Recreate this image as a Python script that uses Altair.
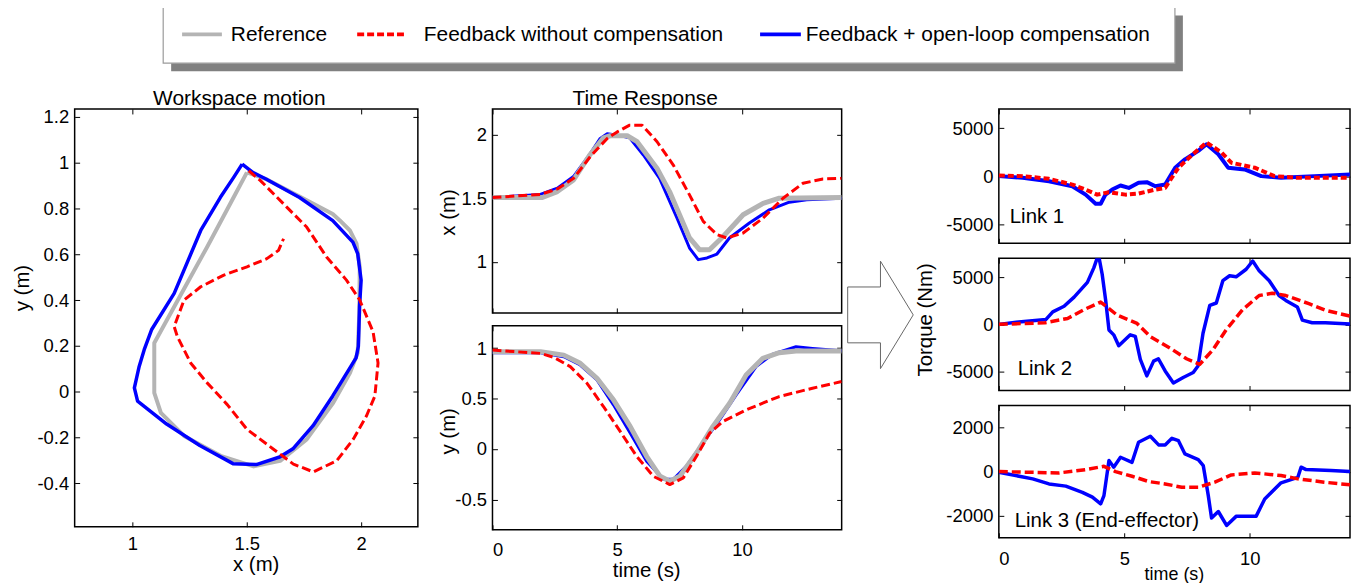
import altair as alt
import pandas as pd

FONT = "Liberation Sans"
GRAY = "#b4b4b4"
RED = "#ff0000"
BLUE = "#0000ff"
DASH = [9, 4]

# ---------------- legend ----------------
legend_labels = ["Reference", "Feedback without compensation", "Feedback + open-loop compensation"]
legend_colors = [GRAY, RED, BLUE]

# ---------------- workspace motion (x, y paths) ----------------
ws_ref_x = [1.501, 1.586, 1.731, 1.876, 1.907, 1.951, 1.980, 1.994, 1.992, 1.985, 1.951, 1.878, 1.762,
            1.646, 1.530, 1.386, 1.226, 1.125, 1.096, 1.096, 1.096, 1.120, 1.183, 1.327, 1.443, 1.501]
ws_ref_y = [0.958, 0.928, 0.852, 0.776, 0.748, 0.704, 0.646, 0.545, 0.342, 0.169, 0.081, -0.049, -0.209,
            -0.303, -0.327, -0.281, -0.194, -0.093, -0.006, 0.183, 0.212, 0.256, 0.371, 0.632, 0.849, 0.958]

ws_ol_x = [1.480, 1.528, 1.586, 1.731, 1.876, 1.964, 1.985, 2.000, 1.993, 1.988, 1.978, 1.876, 1.790,
           1.702, 1.644, 1.542, 1.440, 1.295, 1.150, 1.023, 1.009, 1.030, 1.052, 1.084, 1.183, 1.299,
           1.385, 1.443, 1.480]
ws_ol_y = [0.994, 0.957, 0.928, 0.848, 0.747, 0.653, 0.603, 0.487, 0.371, 0.198, 0.147, -0.019, -0.149,
           -0.250, -0.286, -0.319, -0.315, -0.236, -0.142, -0.042, 0.016, 0.110, 0.183, 0.270, 0.429,
           0.704, 0.849, 0.936, 0.994]

ws_fb_x = [1.509, 1.560, 1.675, 1.762, 1.849, 1.936, 1.994, 2.052, 2.074, 2.060, 2.023, 1.965, 1.893,
           1.791, 1.704, 1.617, 1.501, 1.415, 1.327, 1.255, 1.197, 1.183, 1.226, 1.299, 1.400, 1.501,
           1.588, 1.639, 1.661]
ws_fb_y = [0.965, 0.922, 0.806, 0.719, 0.588, 0.487, 0.400, 0.262, 0.125, -0.020, -0.107, -0.209, -0.303,
           -0.351, -0.317, -0.252, -0.165, -0.057, 0.038, 0.125, 0.240, 0.284, 0.400, 0.458, 0.509, 0.545,
           0.581, 0.617, 0.668]

# ---------------- time response x(t) ----------------
tx_ref_t = [0, 2.0, 2.6, 3.25, 3.9, 4.45, 4.72, 5.4, 5.8, 6.6, 7.1, 7.9, 8.3, 8.7, 9.25, 10.05, 10.85, 11.5, 14]
tx_ref_v = [1.505, 1.505, 1.552, 1.643, 1.839, 1.974, 1.99, 1.99, 1.943, 1.734, 1.552, 1.188, 1.096, 1.096,
            1.20, 1.37, 1.46, 1.50, 1.505]
tx_ol_t = [0, 1.92, 2.6, 3.25, 3.92, 4.32, 4.6, 5.0, 5.5, 6.05, 6.7, 7.4, 7.9, 8.25, 8.6, 9.0, 9.5, 10.3,
           11.1, 11.9, 12.6, 14]
tx_ol_v = [1.505, 1.53, 1.578, 1.67, 1.85, 1.969, 2.005, 1.995, 1.974, 1.839, 1.656, 1.344, 1.109, 1.018,
           1.031, 1.062, 1.188, 1.305, 1.409, 1.469, 1.487, 1.50]
tx_fb_t = [0, 1.92, 2.6, 3.25, 3.92, 4.6, 5.0, 5.5, 6.0, 6.6, 7.25, 7.9, 8.45, 9.0, 9.4, 10.05, 10.85,
           11.65, 12.45, 13.25, 14]
tx_fb_v = [1.505, 1.53, 1.573, 1.656, 1.826, 1.969, 2.02, 2.073, 2.073, 1.943, 1.76, 1.526, 1.318, 1.214,
           1.188, 1.227, 1.344, 1.50, 1.617, 1.651, 1.656]

# ---------------- time response y(t) ----------------
ty_ref_t = [0, 1.93, 2.86, 3.52, 4.19, 4.85, 5.52, 6.18, 6.72, 7.11, 7.51, 8.18, 8.84, 9.51, 10.17, 10.84,
            11.5, 12.17, 14]
ty_ref_v = [0.964, 0.964, 0.93, 0.849, 0.70, 0.487, 0.224, -0.072, -0.27, -0.32, -0.27, -0.04, 0.224,
            0.454, 0.734, 0.898, 0.954, 0.97, 0.97]
ty_ol_t = [0, 1.93, 2.86, 3.52, 4.19, 4.85, 5.52, 6.18, 6.85, 7.25, 7.78, 8.44, 9.11, 9.77, 10.57, 11.24,
           12.17, 12.83, 14]
ty_ol_v = [0.954, 0.954, 0.914, 0.832, 0.684, 0.4375, 0.158, -0.12, -0.30, -0.30, -0.17, 0.06, 0.29,
           0.536, 0.816, 0.94, 1.013, 0.997, 0.974]
ty_fb_t = [0, 1.93, 2.46, 3.12, 3.79, 4.45, 5.12, 5.78, 6.45, 7.11, 7.65, 8.18, 8.71, 9.24, 10.17, 11.5,
           12.83, 14]
ty_fb_v = [0.98, 0.947, 0.908, 0.816, 0.651, 0.421, 0.174, -0.072, -0.27, -0.352, -0.286, -0.072, 0.158,
           0.273, 0.388, 0.52, 0.602, 0.668]

# ---------------- torques ----------------
l1_ol_t = [0, 0.95, 2.0, 2.93, 3.46, 3.86, 4.06, 4.25, 4.52, 4.85, 5.18, 5.57, 5.9, 6.24, 6.63, 7.03, 7.42,
           7.95, 8.28, 8.75, 9.14, 9.8, 10.46, 11.25, 12.58, 14]
l1_ol_v = [0, -175, -530, -1050, -1930, -2880, -2880, -1930, -1400, -980, -1230, -700, -630, -1050, -880,
           880, 1750, 2630, 3330, 2280, 880, 700, 0, -175, 0, 175]
l1_fb_t = [0, 0.95, 2.0, 2.93, 3.46, 3.92, 4.39, 5.05, 5.57, 6.24, 6.63, 7.16, 7.69, 8.28, 8.88, 9.27,
           10.2, 10.99, 11.92, 13.24, 14]
l1_fb_v = [70, 0, -280, -880, -1400, -1930, -1680, -1930, -1820, -1400, -1230, 880, 2180, 3510, 2460,
           1400, 880, 0, -175, -175, -175]

l2_ol_t = [0, 0.9, 1.88, 2.15, 2.6, 3.0, 3.53, 3.79, 3.97, 4.12, 4.26, 4.39, 4.58, 4.78, 5.24, 5.44,
           5.64, 5.9, 6.17, 6.36, 6.63, 6.96, 7.35, 7.75, 7.94, 8.14, 8.41, 8.67, 8.93, 9.2, 9.46, 9.86,
           10.12, 10.38, 10.78, 11.17, 11.44, 11.9, 12.1, 12.49, 13.02, 14]
l2_ol_v = [0, 280, 520, 1320, 1910, 2880, 4440, 6000, 7400, 5300, 2530, -590, -1110, -2260, -1110, -1280,
           -3710, -5450, -3890, -3640, -4930, -6210, -5620, -5100, -4410, -940, 2010, 2260, 4620, 5140,
           5030, 5830, 6700, 5660, 4620, 3050, 2530, 1840, 450, 170, 170, 35]
l2_fb_t = [0, 1.84, 2.74, 3.4, 4.06, 4.72, 5.51, 6.03, 6.82, 7.48, 8.01, 8.54, 9.06, 9.72, 10.38, 10.91,
           11.44, 12.36, 13.02, 14]
l2_fb_v = [0, 170, 620, 1560, 2360, 970, 100, -1280, -2500, -3640, -4230, -2670, -590, 1560, 3050, 3300,
           3050, 2190, 1490, 870]

l3_ol_t = [0, 1.35, 2.0, 2.67, 3.33, 3.73, 4.06, 4.19, 4.39, 4.58, 4.85, 5.31, 5.57, 6.04, 6.37, 6.63,
           6.9, 7.16, 7.42, 7.95, 8.15, 8.35, 8.48, 8.75, 9.08, 9.47, 9.8, 10.26, 10.6, 11.25, 11.92,
           12.05, 12.25, 13.24, 14]
l3_ol_v = [-30, -330, -560, -660, -940, -1160, -1460, -1090, 500, 200, 650, 420, 1330, 1600, 1210, 1210,
           1510, 1400, 800, 540, 270, -1090, -2110, -1810, -2440, -2020, -2020, -2020, -1240, -510, -260,
           200, 90, 45, 0]
l3_fb_t = [0, 2.4, 3.46, 4.19, 4.65, 5.31, 5.97, 6.63, 7.29, 7.95, 8.61, 9.27, 10.2, 11.25, 11.92, 12.97, 14]
l3_fb_v = [0, -60, 90, 240, 0, -210, -450, -560, -710, -710, -480, -150, -60, -180, -330, -480, -600]

ARROW = "M -0.61 -0.52 L 0 -0.52 L 0 -1 L 0.61 0 L 0 1 L 0 0.52 L -0.61 0.52 Z"

one = pd.DataFrame({"k": [0]})


def sdf(t, v):
    return pd.DataFrame({"t": t, "v": v, "i": list(range(len(t)))})


def main_axis(orient, values, labels, title, tpos, pad, tsize=20.5):
    kw = dict(orient=orient, values=values, offset=-5, tickSize=5, tickColor="black", tickWidth=1,
              domain=False, grid=False, labels=labels, labelFont=FONT, labelFontSize=18.5,
              labelColor="black", labelPadding=pad, labelExpr="'' + datum.value")
    if title:
        kw.update(title=title, titleFont=FONT, titleFontSize=tsize, titleFontWeight="normal",
                  titleColor="black", titleX=tpos[0], titleY=tpos[1], titleAlign="center",
                  titleBaseline="middle", titleAngle=270 if orient == "left" else 0)
    else:
        kw["title"] = None
    return alt.Axis(**kw)


def tick_axis(orient, values):
    return alt.Axis(orient=orient, values=values, offset=-5, tickSize=5, tickColor="black", tickWidth=1,
                    domain=False, grid=False, labels=False, title=None)


def spacer(x1, x2, y1, y2):
    return alt.Chart(one).mark_rect(opacity=0).encode(
        x=alt.value(x1), x2=alt.value(x2), y=alt.value(y1), y2=alt.value(y2))


def text(s, x, y, size=20.5, align="left"):
    return alt.Chart(pd.DataFrame({"s": [s]})).mark_text(
        align=align, baseline="alphabetic", font=FONT, fontSize=size, color="black").encode(
        x=alt.value(x), y=alt.value(y), text="s:N")


def panel(series, xdom, ydom, xticks, yticks, w, h, xlabels=True, xtitle="", ytitle="",
          xtpos=(0, 0), ytpos=(0, 0), xpad=8, xtsize=20.5, extras=()):
    xs = alt.Scale(domain=xdom, nice=False, zero=False)
    ys = alt.Scale(domain=ydom, nice=False, zero=False)
    layers = []
    for k, (df, color, dash, sw) in enumerate(series):
        if k == 0:
            xa = main_axis("bottom", xticks, xlabels, xtitle, xtpos, xpad, xtsize)
            ya = main_axis("left", yticks, True, ytitle, ytpos, 6)
        elif k == 1:
            xa = tick_axis("top", xticks)
            ya = tick_axis("right", yticks)
        else:
            xa = None
            ya = None
        props = dict(color=color, strokeWidth=sw, clip=True, strokeJoin="round")
        if dash:
            props["strokeDash"] = dash
        layers.append(alt.Chart(df).mark_line(**props).encode(
            x=alt.X("t:Q", scale=xs, axis=xa),
            y=alt.Y("v:Q", scale=ys, axis=ya),
            order=alt.Order("i:Q")))
    layers += list(extras)
    return alt.layer(*layers).resolve_axis(x="independent", y="independent").properties(width=w, height=h)


# ---------------- legend chart (origin aligned with the workspace plot's left edge) ----------------
leg_pos = [(108, 148, 157), (284, 332, 351), (689, 730, 735)]
leg_dash = [None, [7, 3], None]
leg_layers = [
    alt.Chart(one).mark_rect(color="#808080").encode(
        x=alt.value(97), x2=alt.value(1114), y=alt.value(8), y2=alt.value(64)),
    alt.Chart(one).mark_rect(fill="white", stroke="#9a9a9a", strokeWidth=1.2).encode(
        x=alt.value(89), x2=alt.value(1106), y=alt.value(0), y2=alt.value(56)),
]
for lab, col, dsh, (xa_, xb_, xt_) in zip(legend_labels, legend_colors, leg_dash, leg_pos):
    rp = dict(color=col, strokeWidth=4)
    if dsh:
        rp["strokeDash"] = dsh
    leg_layers.append(alt.Chart(one).mark_rule(**rp).encode(
        x=alt.value(xa_), x2=alt.value(xb_), y=alt.value(27)))
    leg_layers.append(alt.Chart(pd.DataFrame({"s": [lab]})).mark_text(
        align="left", baseline="middle", font=FONT, fontSize=21, color="black").encode(
        x=alt.value(xt_), y=alt.value(28), text="s:N"))
legend_chart = alt.layer(*leg_layers).properties(
    width=1120, height=64, view=alt.ViewBackground(stroke="transparent"))

# ---------------- panels ----------------
workspace = panel(
    [(sdf(ws_ref_x, ws_ref_y), GRAY, None, 4), (sdf(ws_ol_x, ws_ol_y), BLUE, None, 3.5),
     (sdf(ws_fb_x, ws_fb_y), RED, DASH, 3)],
    [0.748, 2.248], [-0.591, 1.235], [1, 1.5, 2], [-0.4, -0.2, 0, 0.2, 0.4, 0.6, 0.8, 1, 1.2],
    345, 420, xtitle="x (m)", ytitle="y (m)", xtpos=(182, 43), ytpos=(-57.5, 179.5), xpad=7.5,
    extras=[spacer(-66, 358, -24, 10), text("Workspace motion", 165.5, -4, 21, "center")])

mid_top = panel(
    [(sdf(tx_ol_t, tx_ol_v), BLUE, None, 3), (sdf(tx_ref_t, tx_ref_v), GRAY, None, 5),
     (sdf(tx_fb_t, tx_fb_v), RED, DASH, 3)],
    [0, 14], [0.6, 2.2], [0, 5, 10], [1, 1.5, 2], 351, 205, xlabels=False,
    ytitle="x (m)", ytpos=(-49.5, 103.5),
    extras=[spacer(-60, 352, -24, 210), text("Time Response", 153.5, -4, 21, "center")])

mid_bot = panel(
    [(sdf(ty_ol_t, ty_ol_v), BLUE, None, 3), (sdf(ty_ref_t, ty_ref_v), GRAY, None, 5),
     (sdf(ty_fb_t, ty_fb_v), RED, DASH, 3)],
    [0, 14], [-0.8, 1.22], [0, 5, 10], [-0.5, 0, 0.5, 1], 351, 205,
    xtitle="time (s)", ytitle="y (m)", xtpos=(154.5, 45.5), ytpos=(-49, 105.5), xpad=10.5,
    extras=[spacer(-60, 352, 0, 10)])

link1 = panel(
    [(sdf(l1_ol_t, l1_ol_v), BLUE, None, 4), (sdf(l1_fb_t, l1_fb_v), RED, [6, 3], 4)],
    [0, 14], [-7000, 7000], [0, 5, 10], [-5000, 0, 5000], 353, 135, xlabels=False,
    extras=[spacer(-155, 0, -24, 141), text("Link 1", 11, 115)])

arrow = alt.Chart(one).mark_point(shape=ARROW, size=11664, filled=True, fill="white", stroke="#666666",
                                  strokeWidth=1, opacity=1).encode(x=alt.value(-119), y=alt.value(57))

link2 = panel(
    [(sdf(l2_ol_t, l2_ol_v), BLUE, None, 3.5), (sdf(l2_fb_t, l2_fb_v), RED, DASH, 3.5)],
    [0, 14], [-7000, 7000], [0, 5, 10], [-5000, 0, 5000], 353, 133, xlabels=False,
    ytitle="Torque (Nm)", ytpos=(-79, 61.5),
    extras=[spacer(-155, 0, 0, 139), arrow, text("Link 2", 19, 117)])

link3 = panel(
    [(sdf(l3_ol_t, l3_ol_v), BLUE, None, 3.5), (sdf(l3_fb_t, l3_fb_v), RED, DASH, 3.5)],
    [0, 14], [-3000, 3000], [0, 5, 10], [-2000, 0, 2000], 353, 133,
    xtitle="time (s)", xtpos=(176, 41.5), xpad=12, xtsize=18,
    extras=[spacer(-155, 0, 0, 10), text("Link 3 (End-effector)", 16, 122)])

mid_col = alt.vconcat(mid_top, mid_bot, spacing=5)
right_col = alt.vconcat(link1, link2, link3, spacing=6)
row = alt.hconcat(workspace, mid_col, right_col, spacing=0)

chart = alt.vconcat(legend_chart, row, spacing=12).properties(
    padding={"left": 0, "top": -4, "right": 0, "bottom": 0}
).configure_view(stroke="black", strokeWidth=1.5)

chart.save("out.html", embed_options={"renderer": "svg", "actions": False})
